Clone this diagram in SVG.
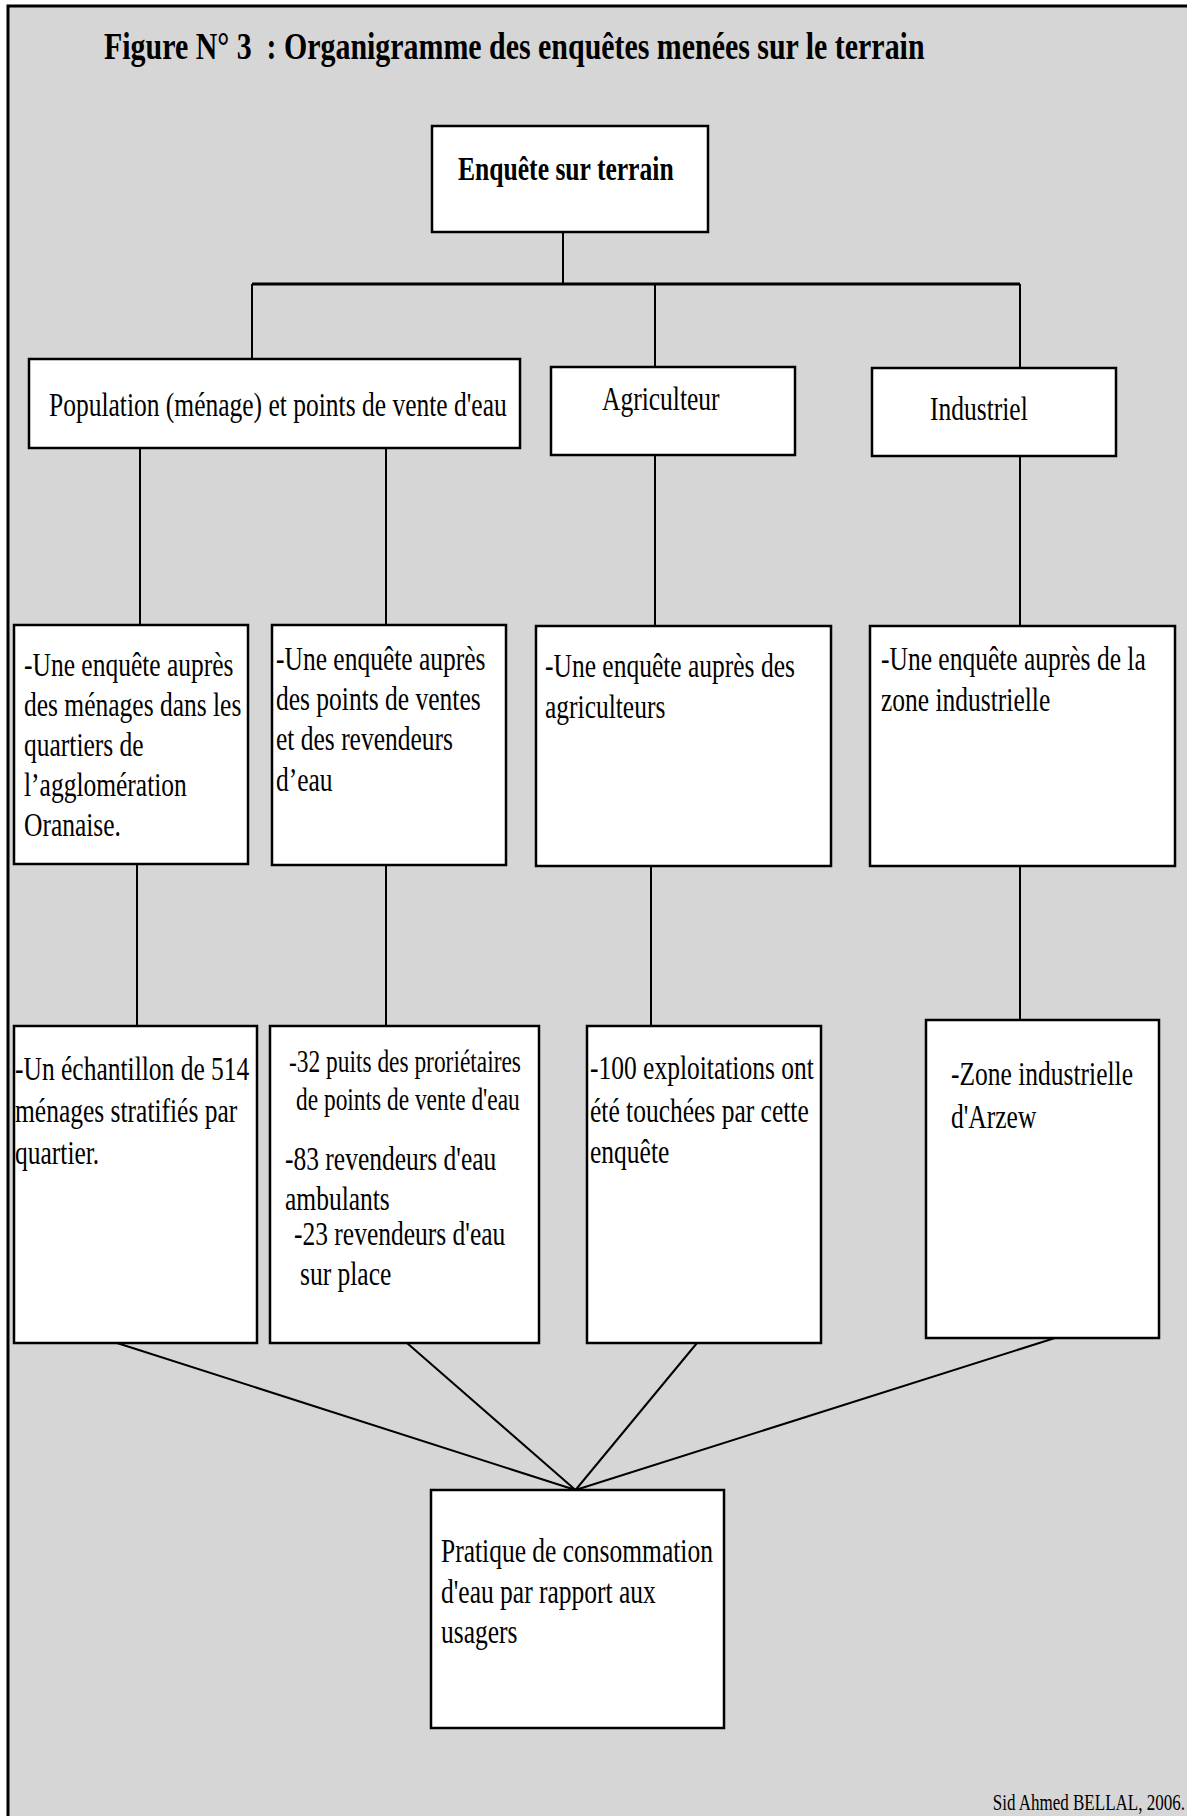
<svg xmlns="http://www.w3.org/2000/svg" width="1187" height="1816" viewBox="0 0 1187 1816">
<style>
.frame{fill:#d6d6d6;stroke:#000;stroke-width:3}
.box{fill:#fff;stroke:#000;stroke-width:2.5}
.c{stroke:#000;stroke-width:2;fill:none}
.bar{stroke:#000;stroke-width:3;fill:none}
.t{font-family:"Liberation Serif","Times New Roman",serif;font-size:34px;fill:#000}
.s{font-size:31px}
.b{font-weight:bold;font-size:33px}
.title{font-size:38px;font-weight:bold}
.sig{font-size:22.7px}
</style>
<rect x="0" y="0" width="1187" height="1816" fill="#fff"/>
<rect class="frame" x="8" y="6" width="1200" height="1830"/>
<text class="t title" transform="translate(104 59) scale(0.787 1)">Figure N° 3&#160; : Organigramme des enquêtes menées sur le terrain</text>

<g id="connectors">
  <path class="c" d="M563 232 V284"/>
  <path class="bar" d="M252 284 H1020"/>
  <path class="c" d="M252 284 V359 M655 284 V367 M1020 284 V368"/>
  <path class="c" d="M140 448 V625 M386 448 V625 M655 455 V626 M1020 456 V626"/>
  <path class="c" d="M137 864 V1026 M386 865 V1026 M651 866 V1026 M1020 866 V1020"/>
  <path class="c" d="M117 1343 L575.5 1490 M407 1343 L575.5 1490 M697 1343 L575.5 1490 M1055 1338 L575.5 1490" stroke-width="2.5"/>
</g>

<g id="n-enquete">
  <rect class="box" x="432" y="126" width="276" height="106"/>
  <text class="t b" transform="translate(458 180) scale(0.776 1)">Enquête sur terrain</text>
</g>
<g id="n-population">
  <rect class="box" x="29" y="359" width="491" height="89"/>
  <text class="t" transform="translate(49 416) scale(0.75 1)">Population (ménage) et points de vente d'eau</text>
</g>
<g id="n-agriculteur">
  <rect class="box" x="551" y="367" width="244" height="88"/>
  <text class="t" transform="translate(602 410) scale(0.75 1)">Agriculteur</text>
</g>
<g id="n-industriel">
  <rect class="box" x="872" y="368" width="244" height="88"/>
  <text class="t" transform="translate(930 420) scale(0.75 1)">Industriel</text>
</g>

<g id="n-menages">
  <rect class="box" x="14" y="625" width="234" height="239"/>
  <text class="t" transform="translate(24 676) scale(0.75 1)">-Une enquête auprès</text>
  <text class="t" transform="translate(24 716) scale(0.75 1)">des ménages dans les</text>
  <text class="t" transform="translate(24 756) scale(0.75 1)">quartiers de</text>
  <text class="t" transform="translate(24 796) scale(0.75 1)">l’agglomération</text>
  <text class="t" transform="translate(24 836) scale(0.75 1)">Oranaise.</text>
</g>
<g id="n-points-vente">
  <rect class="box" x="272" y="625" width="234" height="240"/>
  <text class="t" transform="translate(276 670) scale(0.75 1)">-Une enquête auprès</text>
  <text class="t" transform="translate(276 710) scale(0.75 1)">des points de ventes</text>
  <text class="t" transform="translate(276 750) scale(0.75 1)">et des revendeurs</text>
  <text class="t" transform="translate(276 791) scale(0.75 1)">d’eau</text>
</g>
<g id="n-agriculteurs">
  <rect class="box" x="536" y="626" width="295" height="240"/>
  <text class="t" transform="translate(545 677) scale(0.75 1)">-Une enquête auprès des</text>
  <text class="t" transform="translate(545 718) scale(0.75 1)">agriculteurs</text>
</g>
<g id="n-zone">
  <rect class="box" x="870" y="626" width="305" height="240"/>
  <text class="t" transform="translate(881 670) scale(0.75 1)">-Une enquête auprès de la</text>
  <text class="t" transform="translate(881 711) scale(0.75 1)">zone industrielle</text>
</g>

<g id="n-echantillon">
  <rect class="box" x="14" y="1026" width="243" height="317"/>
  <text class="t" transform="translate(15 1080) scale(0.75 1)">-Un échantillon de 514</text>
  <text class="t" transform="translate(15 1122) scale(0.75 1)">ménages stratifiés par</text>
  <text class="t" transform="translate(15 1164) scale(0.75 1)">quartier.</text>
</g>
<g id="n-puits">
  <rect class="box" x="270" y="1026" width="269" height="317"/>
  <text class="t s" transform="translate(289 1072) scale(0.755 1)">-32 puits des proriétaires</text>
  <text class="t s" transform="translate(296 1110) scale(0.755 1)">de points de vente d'eau</text>
  <text class="t" transform="translate(285 1170) scale(0.75 1)">-83 revendeurs d'eau</text>
  <text class="t" transform="translate(285 1210) scale(0.75 1)">ambulants</text>
  <text class="t" transform="translate(294 1245) scale(0.75 1)">-23 revendeurs d'eau</text>
  <text class="t" transform="translate(300 1285) scale(0.75 1)">sur place</text>
</g>
<g id="n-exploitations">
  <rect class="box" x="587" y="1026" width="234" height="317"/>
  <text class="t" transform="translate(590 1079) scale(0.75 1)">-100 exploitations ont</text>
  <text class="t" transform="translate(590 1122) scale(0.75 1)">été touchées par cette</text>
  <text class="t" transform="translate(590 1163) scale(0.75 1)">enquête</text>
</g>
<g id="n-arzew">
  <rect class="box" x="926" y="1020" width="233" height="318"/>
  <text class="t" transform="translate(951 1085) scale(0.75 1)">-Zone industrielle</text>
  <text class="t" transform="translate(951 1128) scale(0.75 1)">d'Arzew</text>
</g>

<g id="n-pratique">
  <rect class="box" x="431" y="1490" width="293" height="238"/>
  <text class="t" transform="translate(441 1562) scale(0.75 1)">Pratique de consommation</text>
  <text class="t" transform="translate(441 1603) scale(0.75 1)">d'eau par rapport aux</text>
  <text class="t" transform="translate(441 1643) scale(0.75 1)">usagers</text>
</g>

<text class="t sig" text-anchor="end" transform="translate(1185 1810) scale(0.75 1)">Sid Ahmed BELLAL, 2006.</text>
</svg>
